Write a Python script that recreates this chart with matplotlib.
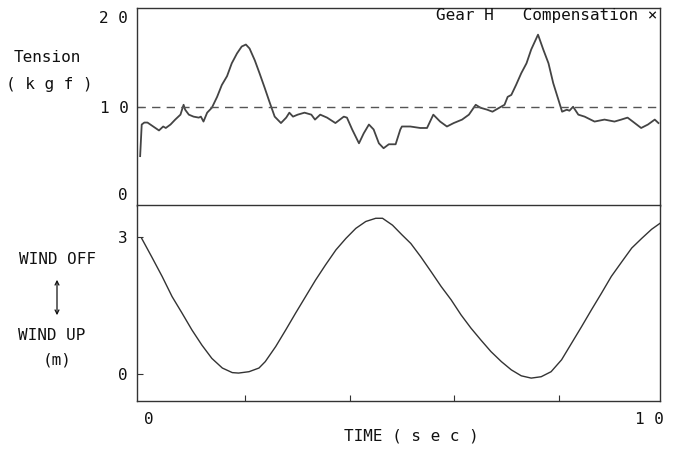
import matplotlib
matplotlib.use("Agg")
import matplotlib.pyplot as plt
from matplotlib import transforms

# tension trace (top panel)
tension_t = [0.00, 0.03, 0.08, 0.14, 0.25, 0.36, 0.44, 0.49, 0.58, 0.67,
             0.77, 0.83, 0.86, 0.93, 1.02, 1.12, 1.16, 1.21, 1.28, 1.37,
             1.47, 1.56, 1.66, 1.75, 1.85, 1.94, 2.02, 2.09, 2.19, 2.28,
             2.38, 2.47, 2.57, 2.69, 2.79, 2.85, 2.92, 3.01, 3.14, 3.27,
             3.34, 3.44, 3.57, 3.73, 3.89, 3.95, 4.05, 4.18, 4.27, 4.37,
             4.46, 4.56, 4.65, 4.75, 4.88, 4.97, 5.00, 5.16, 5.35, 5.48,
             5.60, 5.73, 5.86, 5.99, 6.15, 6.28, 6.41, 6.50, 6.63, 6.73,
             6.86, 6.96, 7.02, 7.09, 7.18, 7.28, 7.38, 7.47, 7.60, 7.70,
             7.80, 7.89, 7.99, 8.06, 8.15, 8.20, 8.27, 8.37, 8.49, 8.68,
             8.87, 9.06, 9.19, 9.31, 9.41, 9.57, 9.70, 9.83, 9.90]
tension_kgf = [5.0, 8.2, 8.4, 8.4, 8.0, 7.6, 8.0, 7.85, 8.2, 8.7,
               9.2, 10.2, 9.7, 9.2, 9.0, 8.9, 9.0, 8.5, 9.4, 9.9,
               11.0, 12.2, 13.1, 14.4, 15.4, 16.1, 16.3, 15.9, 14.7, 13.4,
               11.9, 10.5, 9.0, 8.35, 8.9, 9.4, 9.0, 9.2, 9.4, 9.2,
               8.7, 9.2, 8.9, 8.35, 9.0, 8.9, 7.7, 6.3, 7.3, 8.2,
               7.7, 6.3, 5.8, 6.2, 6.2, 7.7, 8.0, 8.0, 7.85, 7.85,
               9.2, 8.5, 8.0, 8.35, 8.7, 9.2, 10.2, 9.9, 9.7, 9.5,
               9.9, 10.2, 11.0, 11.2, 12.2, 13.4, 14.4, 15.8, 17.3, 15.8,
               14.4, 12.4, 10.7, 9.5, 9.7, 9.6, 10.0, 9.2, 9.0, 8.5,
               8.7, 8.5, 8.7, 8.9, 8.5, 7.85, 8.2, 8.7, 8.35]
target_tension = 10

# wind position trace (bottom panel)
wind_t = [0.03, 0.22, 0.42, 0.61, 0.80, 0.99, 1.18, 1.37, 1.57, 1.76,
          1.88, 2.08, 2.27, 2.39, 2.59, 2.78, 2.97, 3.16, 3.35, 3.54,
          3.74, 3.93, 4.12, 4.31, 4.50, 4.63, 4.82, 5.00, 5.17, 5.36,
          5.56, 5.75, 5.94, 6.13, 6.32, 6.51, 6.70, 6.90, 7.09, 7.28,
          7.47, 7.66, 7.85, 8.05, 8.24, 8.43, 8.62, 8.81, 9.00, 9.20,
          9.39, 9.58, 9.77, 9.93]
wind_m = [2.97, 2.57, 2.14, 1.70, 1.34, 0.97, 0.64, 0.35, 0.14, 0.04,
          0.03, 0.06, 0.14, 0.28, 0.61, 0.97, 1.34, 1.70, 2.06, 2.39,
          2.72, 2.97, 3.19, 3.34, 3.41, 3.41, 3.26, 3.05, 2.86, 2.57,
          2.24, 1.92, 1.63, 1.30, 1.01, 0.75, 0.50, 0.28, 0.10, -0.03,
          -0.08, -0.05, 0.06, 0.32, 0.68, 1.04, 1.41, 1.77, 2.14, 2.46,
          2.76, 2.97, 3.17, 3.30]

FONT = "DejaVu Sans Mono"
FS = 11.5
INK = "#333333"
TXT = "#111111"

plt.rcParams["font.family"] = FONT
plt.rcParams["font.size"] = FS

W, H = 674, 450
fig = plt.figure(figsize=(W / 100, H / 100), dpi=100)
fig.patch.set_facecolor("white")


def fx(px):
    return px / W


def fy(py):
    return 1 - py / H


def shift(dx, dy):
    # offset in pixels at dpi 100
    return transforms.ScaledTranslation(dx / 100, dy / 100, fig.dpi_scale_trans)


left, right = 137, 660
ax1 = fig.add_axes([fx(left), fy(205.5), (right - left) / W, 197.5 / H])
ax2 = fig.add_axes([fx(left), fy(401), (right - left) / W, 196 / H])

for ax in (ax1, ax2):
    ax.set_xlim(-0.06, 9.93)
    for sp in ax.spines.values():
        sp.set_color(INK)
        sp.set_linewidth(1.0)
    ax.tick_params(direction="in", length=4, width=0.8, color=INK,
                   labelsize=FS, labelcolor=TXT)

# top panel: tension
ax1.plot(tension_t, tension_kgf, color="#444444", lw=1.3)
ax1.axhline(target_tension, color="#555555", lw=1.0, dashes=(6, 4.5))
ax1.set_ylim(0, 20)
ax1.set_xticks([])
ax1.set_yticks([10])
ax1.set_yticklabels(["1 0"])
ax1.tick_params(axis="y", pad=6)
ax1.spines["bottom"].set_visible(False)

ytr = ax1.get_yaxis_transform()
ax1.text(0, 20, "2 0", transform=ytr + shift(-9, -3),
         ha="right", va="top", color=TXT)
ax1.text(0, 0, "0", transform=ytr + shift(-9, 2),
         ha="right", va="bottom", color=TXT)
ax1.text(1.0, 0.96, "Gear H   Compensation ×", transform=ax1.transAxes + shift(-3, 0),
         ha="right", va="center", color=TXT)

# bottom panel: wind position
ax2.plot(wind_t, wind_m, color="#333333", lw=1.0)
ax2.set_ylim(-0.58, 3.70)
ax2.set_yticks([0, 3])
ax2.set_yticklabels(["0", "3"])
ax2.tick_params(axis="y", pad=7)
ax2.set_xticks([2, 4, 6, 8])
ax2.set_xticklabels([])

xtr = ax2.get_xaxis_transform()
ax2.text(0, 0, "0", transform=xtr + shift(4, -18),
         ha="left", va="center", color=TXT)
ax2.text(10, 0, "1 0", transform=xtr + shift(0, -18),
         ha="right", va="center", color=TXT)

# axis captions
fig.text(fx(411), fy(436), "TIME ( s e c )", ha="center", va="center", color=TXT)
fig.text(fx(47), fy(57), "Tension", ha="center", va="center", color=TXT)
fig.text(fx(49), fy(85), "( k g f )", ha="center", va="center", color=TXT)
fig.text(fx(57), fy(260), "WIND OFF", ha="center", va="center", color=TXT)
fig.text(fx(52), fy(335), "WIND UP", ha="center", va="center", color=TXT)
fig.text(fx(57), fy(360), "(m)", ha="center", va="center", color=TXT)
fig.add_artist(matplotlib.patches.FancyArrowPatch(
    (fx(57), fy(318)), (fx(57), fy(277)), transform=fig.transFigure,
    arrowstyle="<->", mutation_scale=7, lw=0.9, color=TXT))

fig.savefig("out.png", dpi=100)
